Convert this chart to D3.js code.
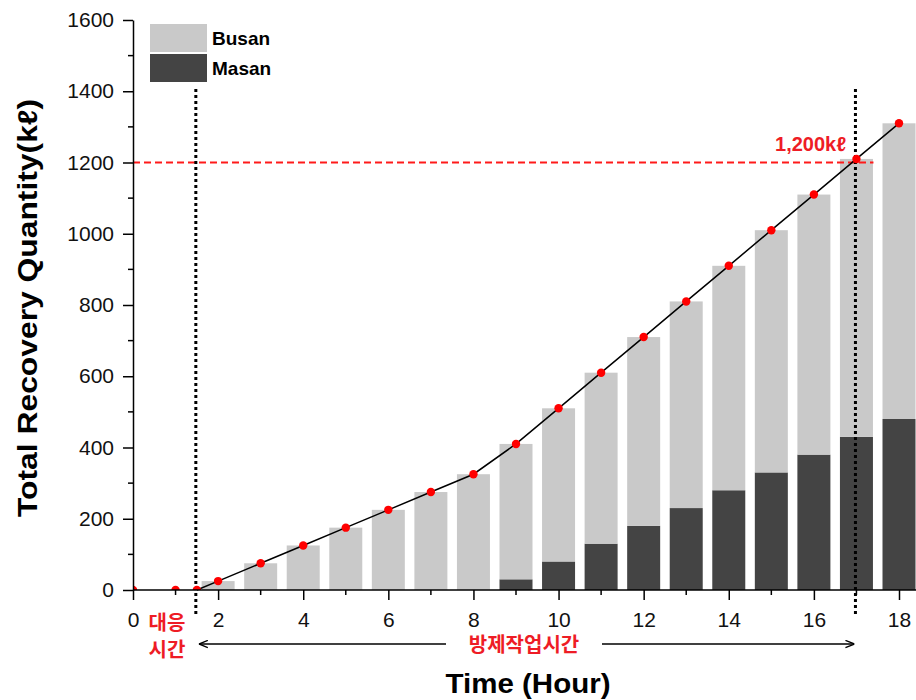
<!DOCTYPE html>
<html>
<head>
<meta charset="utf-8">
<script src="https://cdn.jsdelivr.net/npm/d3@7"></script>
<style>
  body { margin: 0; background: #fff; }
  svg { display: block; font-family: "Liberation Sans", Arial, sans-serif; }
</style>
</head>
<body>
<div class="chart"></div>
<script>
// data
const hours = [2, 3, 4, 5, 6, 7, 8, 9, 10, 11, 12, 13, 14, 15, 16, 17, 18];
const busan = [25, 75, 125, 175, 225, 275, 325, 380, 430, 480, 530, 580, 630, 680, 730, 780, 830];
const masan = [0, 0, 0, 0, 0, 0, 0, 30, 80, 130, 180, 230, 280, 330, 380, 430, 480];

const lineTime = [0, 1, 1.5, 2, 3, 4, 5, 6, 7, 8, 9, 10, 11, 12, 13, 14, 15, 16, 17, 18];
const lineTotal = [0, 0, 0, 25, 75, 125, 175, 225, 275, 325, 410, 510, 610, 710, 810, 910, 1010, 1110, 1210, 1310];

const yTicks = [0, 200, 400, 600, 800, 1000, 1200, 1400, 1600];
const xTicks = [0, 2, 4, 6, 8, 10, 12, 14, 16, 18];
const responseEnd = 1.5;
const workEnd = 17;
const target = 1200;

const width = 916, height = 700;
const svg = d3.select(".chart").append("svg")
    .attr("width", width)
    .attr("height", height);

const x = d3.scaleLinear().domain([0, 18]).range([133, 899]);
const y = d3.scaleLinear().domain([0, 1600]).range([590, 20]);
const barW = 33;

// clip so points on the axis only show their upper half, like the original
svg.append("defs").append("clipPath").attr("id", "plot")
  .append("rect")
    .attr("x", x(0)).attr("y", 0)
    .attr("width", width - x(0)).attr("height", y(0));

// stacked bars: Masan at bottom, Busan on top
const rows = hours.map((h, i) => ({h: h, busan: busan[i], masan: masan[i]}));
const stack = d3.stack().keys(["masan", "busan"])(rows);
const colors = {masan: "#444444", busan: "#c9c9c9"};

svg.append("g")
  .selectAll("g")
  .data(stack)
  .join("g")
    .attr("fill", d => colors[d.key])
  .selectAll("rect")
  .data(d => d)
  .join("rect")
    .attr("x", d => x(d.data.h) - barW / 2)
    .attr("y", d => y(d[1]))
    .attr("width", barW)
    .attr("height", d => y(d[0]) - y(d[1]));

// red dashed 1200 line
svg.append("line")
    .attr("x1", x(0)).attr("x2", x(17.4))
    .attr("y1", y(target)).attr("y2", y(target))
    .attr("stroke", "#ff1a1a")
    .attr("stroke-width", 1.8)
    .attr("stroke-dasharray", "7,4");

svg.append("text")
    .attr("x", 846).attr("y", y(target) - 12)
    .attr("text-anchor", "end")
    .attr("fill", "#ee1c25")
    .attr("font-weight", "bold")
    .attr("font-size", 20)
    .text("1,200kℓ");

// dotted vertical lines
[responseEnd, workEnd].forEach(t => {
  svg.append("line")
      .attr("x1", x(t) - 1).attr("x2", x(t) - 1)
      .attr("y1", 89).attr("y2", 617)
      .attr("stroke", "#000")
      .attr("stroke-width", 3)
      .attr("stroke-dasharray", "3,3");
});

// cumulative line with red dots
const pts = lineTime.map((t, i) => [t, lineTotal[i]]);
svg.append("path")
    .datum(pts.filter(d => d[0] >= responseEnd))
    .attr("fill", "none")
    .attr("stroke", "#000")
    .attr("stroke-width", 1.5)
    .attr("d", d3.line().x(d => x(d[0])).y(d => y(d[1])));

svg.append("g")
    .attr("clip-path", "url(#plot)")
  .selectAll("circle")
  .data(pts)
  .join("circle")
    .attr("cx", d => x(d[0]))
    .attr("cy", d => y(d[1]))
    .attr("r", 4.2)
    .attr("fill", "#ff0000");

// axes
const yAxis = svg.append("g")
    .attr("transform", `translate(${x(0)},0)`)
    .call(d3.axisLeft(y).tickValues(yTicks).tickFormat(d3.format("d"))
      .tickSize(10).tickPadding(9).tickSizeOuter(0));
yAxis.append("g").selectAll("line")
  .data(d3.range(100, 1600, 200))
  .join("line")
    .attr("x1", -5).attr("x2", 0)
    .attr("y1", d => y(d)).attr("y2", d => y(d))
    .attr("stroke", "#000").attr("stroke-width", 1.5);

const xAxis = svg.append("g")
    .attr("transform", `translate(0,${y(0)})`)
    .call(d3.axisBottom(x).tickValues(xTicks).tickFormat(d3.format("d"))
      .tickSize(10).tickPadding(12).tickSizeOuter(0));
xAxis.append("g").selectAll("line")
  .data(d3.range(1, 19, 2))
  .join("line")
    .attr("x1", d => x(d)).attr("x2", d => x(d))
    .attr("y1", 0).attr("y2", 5)
    .attr("stroke", "#000").attr("stroke-width", 1.5);
xAxis.select(".domain").attr("d", `M${x(0)},0H${width}`);

[xAxis, yAxis].forEach(a => {
  a.selectAll(".domain, .tick line").attr("stroke", "#000").attr("stroke-width", 1.5);
  a.selectAll(".tick text").attr("font-size", 21).attr("font-family", "Liberation Sans, Arial, sans-serif").attr("fill", "#111");
});

// legend
const legend = [["Busan", colors.busan], ["Masan", colors.masan]];
const lg = svg.append("g").selectAll("g")
  .data(legend)
  .join("g")
    .attr("transform", (d, i) => `translate(150,${24 + i * 30})`);
lg.append("rect").attr("width", 57).attr("height", 28).attr("fill", d => d[1]);
lg.append("text")
    .attr("x", 62).attr("y", 21)
    .attr("font-size", 19).attr("font-weight", "bold")
    .text(d => d[0]);

// annotations below axis
const red = "#ee1c25";
svg.append("text")
    .attr("x", 167).attr("text-anchor", "middle")
    .attr("fill", red).attr("font-weight", "bold").attr("font-size", 20)
    .attr("font-family", "Noto Sans CJK KR")
  .selectAll("tspan")
  .data(["대응", "시간"])
  .join("tspan")
    .attr("x", 167)
    .attr("y", (d, i) => 630 + i * 27)
    .text(d => d);

svg.select("defs").append("marker")
    .attr("id", "ah")
    .attr("viewBox", "0 0 10 10")
    .attr("refX", 10).attr("refY", 5)
    .attr("markerWidth", 9).attr("markerHeight", 9)
    .attr("markerUnits", "userSpaceOnUse")
    .attr("orient", "auto-start-reverse")
  .append("path")
    .attr("d", "M0,1L10,5L0,9")
    .attr("fill", "none").attr("stroke", "#000").attr("stroke-width", 1.5);

const arrowY = 644;
svg.append("line")
    .attr("x1", x(responseEnd) + 2).attr("x2", 446)
    .attr("y1", arrowY).attr("y2", arrowY)
    .attr("stroke", "#000").attr("stroke-width", 1.3)
    .attr("marker-start", "url(#ah)");
svg.append("line")
    .attr("x1", 602).attr("x2", x(workEnd) - 2)
    .attr("y1", arrowY).attr("y2", arrowY)
    .attr("stroke", "#000").attr("stroke-width", 1.3)
    .attr("marker-end", "url(#ah)");
svg.append("text")
    .attr("x", 524).attr("y", 652)
    .attr("text-anchor", "middle")
    .attr("fill", red).attr("font-weight", "bold").attr("font-size", 20)
    .attr("font-family", "Noto Sans CJK KR")
    .text("방제작업시간");

// axis titles
svg.append("text")
    .attr("x", 528).attr("y", 693)
    .attr("text-anchor", "middle")
    .attr("font-size", 28).attr("font-weight", "bold")
    .attr("textLength", 165).attr("lengthAdjust", "spacingAndGlyphs")
    .text("Time (Hour)");

svg.append("text")
    .attr("transform", "translate(37,308) rotate(-90)")
    .attr("text-anchor", "middle")
    .attr("font-size", 27).attr("font-weight", "bold")
    .attr("textLength", 418).attr("lengthAdjust", "spacingAndGlyphs")
    .text("Total Recovery Quantity(kℓ)");
</script>
</body>
</html>
